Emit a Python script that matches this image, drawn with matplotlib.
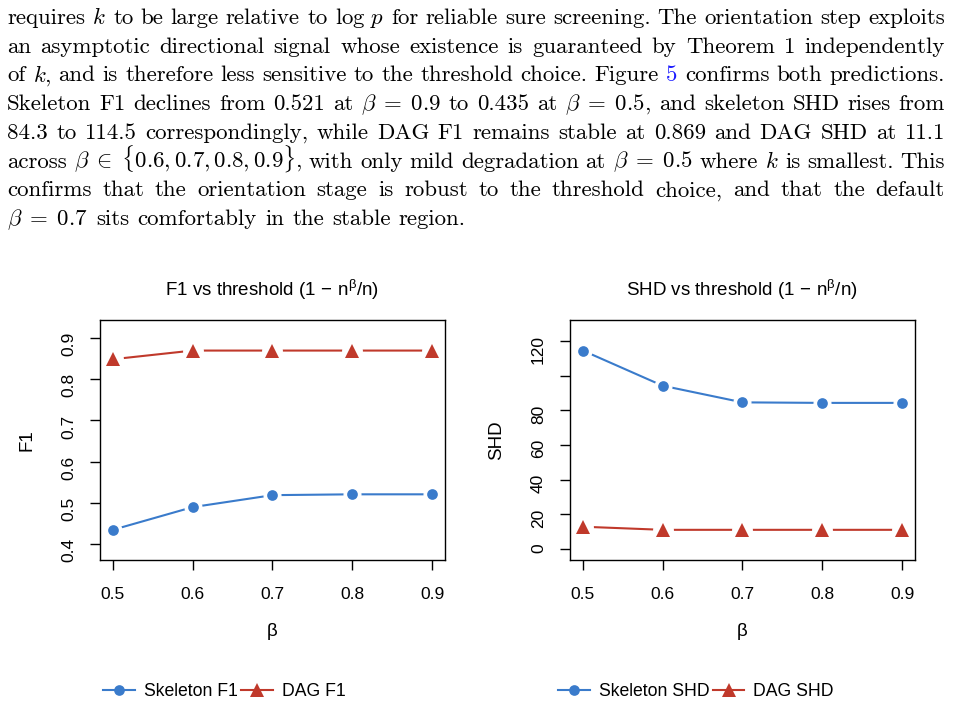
import re
import matplotlib
matplotlib.use("Agg")
import matplotlib.pyplot as plt
from matplotlib.lines import Line2D

# values
beta = [0.5, 0.6, 0.7, 0.8, 0.9]
skel_f1 = [0.435, 0.490, 0.519, 0.521, 0.521]
dag_f1 = [0.848, 0.869, 0.869, 0.869, 0.869]
skel_shd = [114.5, 94.2, 84.6, 84.3, 84.3]
dag_shd = [12.9, 11.1, 11.1, 11.1, 11.1]

beta_labels = ["0.5", "0.6", "0.7", "0.8", "0.9"]
f1_ticks = [0.4, 0.5, 0.6, 0.7, 0.8, 0.9]
f1_labels = ["0.4", "0.5", "0.6", "0.7", "0.8", "0.9"]
shd_ticks = [0, 20, 40, 60, 80, 100, 120]
shd_labels = ["0", "20", "40", "60", "80", "", "120"]

paragraph = [
    r"requires $k$ to be large relative to $\log\,p$ for reliable sure screening. The orientation step exploits",
    r"an asymptotic directional signal whose existence is guaranteed by Theorem 1 independently",
    r"of $k$, and is therefore less sensitive to the threshold choice. Figure 5 confirms both predictions.",
    r"Skeleton F1 declines from 0.521 at $\beta\;=\;0.9$ to 0.435 at $\beta\;=\;0.5$, and skeleton SHD rises from",
    r"84.3 to 114.5 correspondingly, while DAG F1 remains stable at 0.869 and DAG SHD at 11.1",
    r"across $\beta\;\in\;\{0.6, 0.7, 0.8, 0.9\}$, with only mild degradation at $\beta\;=\;0.5$ where $k$ is smallest. This",
    r"confirms that the orientation stage is robust to the threshold choice, and that the default",
    r"$\beta\;=\;0.7$ sits comfortably in the stable region.",
]

BLUE = "#3a7bcb"
RED = "#c0392b"
W, H = 954, 706

plt.rcParams.update({"font.family": "Liberation Sans",
                     "mathtext.fontset": "cm",
                     "mathtext.rm": "Liberation Sans",
                     "mathtext.it": "Liberation Sans:italic",
                     "mathtext.bf": "Liberation Sans:bold"})

fig = plt.figure(figsize=(W / 100, H / 100), dpi=100)
renderer = fig.canvas.get_renderer()


def px(x, y):
    return x / W, 1 - y / H


# justified paragraph on top
left, right = 7, 945
base = 16.3
rows = []
for line in paragraph:
    words = re.findall(r"[^\s$]*\$[^$]*\$[^\s$]*|\S+", line)
    texts = [fig.text(0, 0, w, fontfamily="cmr10", fontsize=base, va="baseline",
                      math_fontfamily="cm",
                      color="#1a1aff" if w == "5" else "black") for w in words]
    rows.append(texts)

# pick the size so the mean inter-word gap is a normal space
tot_w = sum(sum(t.get_window_extent(renderer).width for t in r) for r in rows[:-1])
n_gaps = sum(len(r) - 1 for r in rows[:-1])
n_lines = len(rows) - 1
k = (right - left) * n_lines / (tot_w + 0.36 * base / 0.72 * n_gaps)
size = base * k

for i, texts in enumerate(rows):
    for t in texts:
        t.set_fontsize(size)
    widths = [t.get_window_extent(renderer).width for t in texts]
    if i < len(rows) - 1:
        gap = (right - left - sum(widths)) / (len(texts) - 1)
    else:
        gap = 0.36 * size / 0.72
    x = left
    yb = 24 + 28.7 * i
    for t, wd in zip(texts, widths):
        t.set_position(px(x, yb))
        x += wd + gap


def panel(x0, ylim, skel, dag, ticks, labels, title, ylab, ylab_x, names, leg_x):
    ax = fig.add_axes([x0 / W, 1 - 560 / H, 345 / W, 240 / H])
    ax.plot(beta, skel, color=BLUE, lw=1.5, zorder=2)
    ax.plot(beta, dag, color=RED, lw=1.5, zorder=2)
    # white halos give the gaps of R's type="b" lines
    ax.plot(beta, skel, "o", color="white", ms=12, zorder=3)
    ax.plot(beta, dag, "o", color="white", ms=14, zorder=3)
    ax.plot(beta, skel, "o", color=BLUE, ms=7.7, mew=0, zorder=4)
    ax.plot(beta, dag, "^", color=RED, ms=9.6, mew=0, zorder=4)
    ax.set_xlim(0.484, 0.916)
    ax.set_ylim(*ylim)
    ax.set_xticks(beta, beta_labels)
    ax.set_yticks(ticks, labels)
    ax.tick_params(direction="out", length=7.3, width=1, labelsize=12.5)
    ax.tick_params(axis="x", pad=12)
    ax.tick_params(axis="y", pad=10, labelrotation=90)
    for s in ax.spines.values():
        s.set_linewidth(1)
    cx = x0 + 172
    fig.text(*px(cx, 290), title, ha="center", va="center", fontsize=13.5,
             math_fontfamily="custom")
    fig.text(*px(cx, 631), "β", ha="center", va="center", fontsize=13.5)
    fig.text(*px(ylab_x, 440), ylab, ha="center", va="center", fontsize=13.5,
             rotation=90)
    handles = [Line2D([], [], color=BLUE, lw=1.5, marker="o", ms=7.7, mew=0),
               Line2D([], [], color=RED, lw=1.5, marker="^", ms=9.6, mew=0)]
    fig.legend(handles, names, loc="center left", bbox_to_anchor=px(leg_x, 692),
               ncol=2, frameon=False, fontsize=12.7, handlelength=1.8,
               handletextpad=0.5, columnspacing=0.2, borderaxespad=0,
               borderpad=0)
    return ax


panel(100, (0.362, 0.943), skel_f1, dag_f1, f1_ticks, f1_labels,
      r"F1 vs threshold $\mathrm{(1\,-\,n^{\beta}/n)}$", "F1", 27,
      ["Skeleton F1", "DAG F1"], 103)
panel(570, (-6.3, 132.1), skel_shd, dag_shd, shd_ticks, shd_labels,
      r"SHD vs threshold $\mathrm{(1\,-\,n^{\beta}/n)}$", "SHD", 497,
      ["Skeleton SHD", "DAG SHD"], 558)

fig.savefig("out.png", dpi=100)
